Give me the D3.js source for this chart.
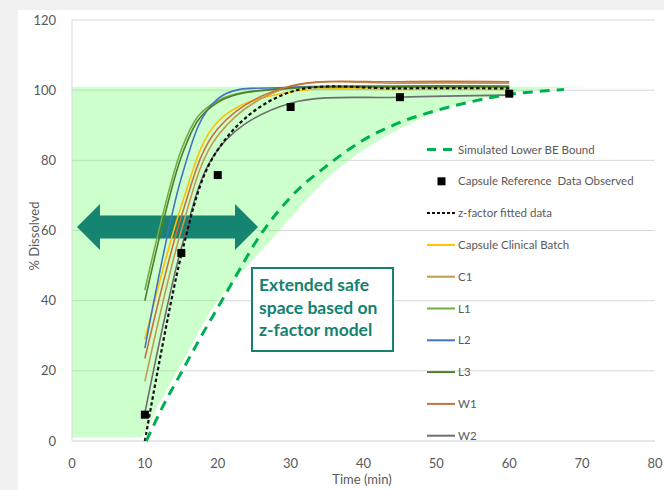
<!DOCTYPE html>
<html>
<head>
<meta charset="utf-8">
<script src="https://cdn.jsdelivr.net/npm/d3@7"></script>
<style>
  body { margin: 0; background: #f1f1f1; }
  svg { display: block; }
  text { font-family: Lato, "Open Sans", sans-serif; }
</style>
</head>
<body>
<div id="chart"></div>
<script>
// sampling times (min) for the batch curves
const times = [10, 15, 20, 30, 45, 60];

// % dissolved per batch
const observed = [7.5, 53.6, 75.8, 95.2, 98, 99];
const zFactor  = [0, 53, 83, 99.5, 100.5, 100.5];
const clinical = [29, 67, 91, 99.5, 100.2, 100.2];
const c1 = [17, 60, 87, 101, 102, 102];
const l1 = [43, 83, 97, 100.5, 100.8, 100.8];
const l2 = [26.5, 75, 97.5, 100.8, 101.2, 101.2];
const l3 = [40, 81, 96.5, 100.6, 101, 101];
const w1 = [23.5, 64, 89, 101.2, 102.4, 102.4];
const w2 = [8, 55, 83, 96.3, 98, 98.6];

// simulated lower BE bound
const boundTimes  = [10.2, 12.5, 15, 17.5, 20, 22.5, 25, 30, 35, 40, 45, 50, 55, 60, 65, 67.5];
const boundValues = [0, 10, 19.5, 29, 38, 47, 56, 69.5, 78.5, 85.8, 90.8, 94.2, 96.8, 98.8, 99.8, 100.2];

// extended safe space (shaded)
const safeTimes = [0, 9.3, 12, 15, 19, 23, 27, 31, 35.4, 40, 45, 49, 53, 57.4, 63, 71.5];
const safeLow   = [1, 1, 11, 22, 37, 47.5, 56.5, 66, 75.5, 83, 89, 93, 96, 98, 100, 101];
const safeTop = 101;

const xTicks = [0, 10, 20, 30, 40, 50, 60, 70, 80];
const yTicks = [0, 20, 40, 60, 80, 100, 120];

const series = [
  { name: "Capsule Clinical Batch", values: clinical, color: "#ffc000" },
  { name: "C1", values: c1, color: "#bf9c52" },
  { name: "L1", values: l1, color: "#70ad47" },
  { name: "L2", values: l2, color: "#4472c4" },
  { name: "L3", values: l3, color: "#4e7d2c" },
  { name: "W1", values: w1, color: "#c8703a" },
  { name: "W2", values: w2, color: "#6e6e6e" }
];

const width = 664, height = 490;
const svg = d3.select("#chart").append("svg")
    .attr("width", width)
    .attr("height", height);

// white card
svg.append("rect").attr("x", 18).attr("y", 10)
    .attr("width", width - 18).attr("height", height - 10)
    .attr("fill", "#fff");

const x = d3.scaleLinear().domain([0, 80]).range([72, 655]);
const y = d3.scaleLinear().domain([0, 120]).range([441, 20]);

// gridlines
svg.append("g").selectAll("line")
    .data(yTicks.filter(d => d > 0))
    .enter().append("line")
    .attr("x1", x(0)).attr("x2", x(80))
    .attr("y1", d => y(d)).attr("y2", d => y(d))
    .attr("stroke", "#d9d9d9");

// shaded safe space
const area = d3.area()
    .x(d => x(d.t))
    .y0(d => y(d.low))
    .y1(y(safeTop))
    .curve(d3.curveMonotoneX);
svg.append("path")
    .datum(safeTimes.map((t, i) => ({ t: t, low: safeLow[i] })))
    .attr("d", area)
    .attr("fill", "#66ff66")
    .attr("fill-opacity", 0.33);

// axis lines
svg.append("line").attr("x1", x(0)).attr("x2", x(0)).attr("y1", y(120)).attr("y2", y(0))
    .attr("stroke", "#d9d9d9");
svg.append("line").attr("x1", x(0)).attr("x2", x(80)).attr("y1", y(0)).attr("y2", y(0))
    .attr("stroke", "#d0d0d0");

// tick labels
svg.append("g").selectAll("text")
    .data(xTicks)
    .enter().append("text")
    .attr("x", d => x(d)).attr("y", 468)
    .attr("text-anchor", "middle")
    .attr("font-size", 13).attr("fill", "#595959")
    .text(d => d);
svg.append("g").selectAll("text")
    .data(yTicks)
    .enter().append("text")
    .attr("x", 56).attr("y", d => y(d) + 4.5)
    .attr("text-anchor", "end")
    .attr("font-size", 13).attr("fill", "#595959")
    .text(d => d);

svg.append("text").attr("x", 362).attr("y", 484)
    .attr("text-anchor", "middle").attr("font-size", 13).attr("fill", "#595959")
    .text("Time (min)");
svg.append("text")
    .attr("transform", "translate(39,236) rotate(-90)")
    .attr("text-anchor", "middle").attr("font-size", 13).attr("fill", "#595959")
    .text("% Dissolved");

// double arrow
const ay = 227, tipL = 77, tipR = 258, baseL = 100, baseR = 235, sh = 11.5, hh = 23;
svg.append("path")
    .attr("d", `M${tipL},${ay} L${baseL},${ay - hh} L${baseL},${ay - sh} L${baseR},${ay - sh} L${baseR},${ay - hh}
               L${tipR},${ay} L${baseR},${ay + hh} L${baseR},${ay + sh} L${baseL},${ay + sh} L${baseL},${ay + hh} Z`)
    .attr("fill", "#0b7d6c")
    .attr("fill-opacity", 0.95);

// batch curves (Excel-style smoothing)
const line = d3.line()
    .x((d, i) => x(times[i]))
    .y(d => y(d))
    .curve(d3.curveCardinal.tension(0));

svg.append("g").selectAll("path")
    .data(series)
    .enter().append("path")
    .attr("d", d => line(d.values))
    .attr("fill", "none")
    .attr("stroke", d => d.color)
    .attr("stroke-width", 1.6);

// z-factor fit
svg.append("path")
    .attr("d", line(zFactor))
    .attr("fill", "none")
    .attr("stroke", "#111")
    .attr("stroke-width", 2.2)
    .attr("stroke-dasharray", "3.5,2.5");

// lower BE bound
const boundLine = d3.line()
    .x(d => x(d.t)).y(d => y(d.v))
    .curve(d3.curveMonotoneX);
svg.append("path")
    .attr("d", boundLine(boundTimes.map((t, i) => ({ t: t, v: boundValues[i] }))))
    .attr("fill", "none")
    .attr("stroke", "#00b050")
    .attr("stroke-width", 3)
    .attr("stroke-dasharray", "10,7");

// observed reference points
svg.append("g").selectAll("rect")
    .data(observed)
    .enter().append("rect")
    .attr("x", (d, i) => x(times[i]) - 4)
    .attr("y", d => y(d) - 4)
    .attr("width", 8).attr("height", 8)
    .attr("fill", "#000");

// annotation box
svg.append("rect").attr("x", 252).attr("y", 268).attr("width", 141).attr("height", 83)
    .attr("fill", "#fff").attr("stroke", "#138270").attr("stroke-width", 2);
const boxLines = ["Extended safe", "space based on", "z-factor model"];
svg.append("g").selectAll("text")
    .data(boxLines)
    .enter().append("text")
    .attr("x", 259).attr("y", (d, i) => 291 + i * 22.5)
    .attr("font-size", 17.5).attr("font-weight", "bold").attr("fill", "#138270")
    .text(d => d);

// legend
const legendItems = [
  { name: "Simulated Lower BE Bound", type: "bound" },
  { name: "Capsule Reference  Data Observed", type: "marker" },
  { name: "z-factor fitted data", type: "zfit" }
].concat(series.map(s => ({ name: s.name, type: "line", color: s.color })));

const lg = svg.append("g").selectAll("g")
    .data(legendItems)
    .enter().append("g")
    .attr("transform", (d, i) => `translate(427,${149.5 + i * 31.8})`);

lg.each(function(d) {
  const g = d3.select(this);
  if (d.type === "marker") {
    g.append("rect").attr("x", 10.5).attr("y", -4).attr("width", 8).attr("height", 8).attr("fill", "#000");
  } else {
    const l = g.append("line").attr("x1", 0).attr("x2", 28).attr("y1", 0).attr("y2", 0);
    if (d.type === "bound") {
      l.attr("stroke", "#00b050").attr("stroke-width", 3).attr("stroke-dasharray", "9,7");
    } else if (d.type === "zfit") {
      l.attr("stroke", "#111").attr("stroke-width", 2).attr("stroke-dasharray", "3,2");
    } else {
      l.attr("stroke", d.color).attr("stroke-width", 2);
    }
  }
  g.append("text").attr("x", 31).attr("y", 4)
      .attr("font-size", 11.5).attr("fill", "#595959")
      .style("white-space", "pre")
      .text(d.name);
});
</script>
</body>
</html>
